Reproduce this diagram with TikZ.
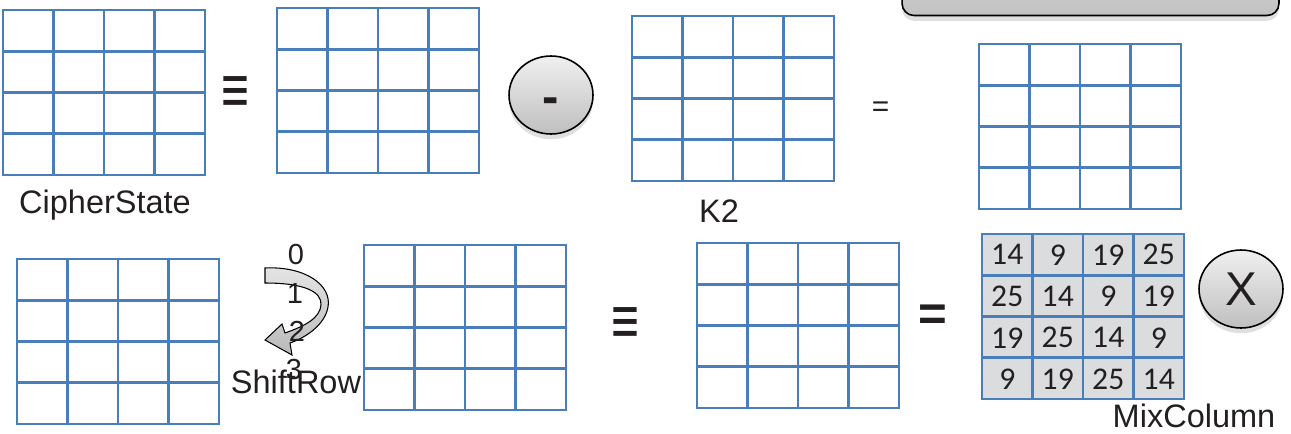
\documentclass[tikz,border=0pt]{standalone}
\usepackage{graphicx}
\usepackage{fontspec}
\setmainfont{Liberation Sans}
\newfontfamily\numfont{Carlito}
\usetikzlibrary{shapes.geometric,shadows,calc}
\definecolor{gridblue}{RGB}{74,126,187}
\definecolor{cellgray}{RGB}{219,220,222}
\definecolor{inkgray}{RGB}{35,31,32}

% 4x4 state grid: [fill] name, x, y (centre)
\newcommand{\stategrid}[4][white]{%
  \node[gridbox,fill=#1] (#2) at (#3,#4) {};
  \foreach \k in {1,2,3}{
    \draw[gridline] ($(#2.north west)!\k/4!(#2.north east)$) -- ($(#2.south west)!\k/4!(#2.south east)$);
    \draw[gridline] ($(#2.north west)!\k/4!(#2.south west)$) -- ($(#2.north east)!\k/4!(#2.south east)$);
  }%
}

\begin{document}
\begin{tikzpicture}[x=0.02cm,y=-0.02cm,
  gridbox/.style={draw=gridblue,line width=1.5pt,minimum width=4.04cm,minimum height=3.3cm,inner sep=0pt,outer sep=0pt},
  gridline/.style={draw=gridblue,line width=1.5pt},
  lbl/.style={text=inkgray,font=\fontsize{18.5}{22}\selectfont,inner sep=0pt,anchor=base},
  rowlbl/.style={text=inkgray,font=\fontsize{16.5}{18}\selectfont,inner sep=0pt,anchor=base},
  cellnum/.style={text=inkgray,font=\numfont\fontsize{18}{20}\selectfont,inner sep=0pt},
  opcircle/.style={ellipse,draw=black,line width=0.9pt,top color=gray!12,bottom color=gray!50,
    minimum width=1.68cm,minimum height=1.56cm,inner sep=0pt,
    drop shadow={opacity=0.25,shadow xshift=0pt,shadow yshift=-3pt}},
  opsym/.style={text=inkgray,font=\fontsize{27}{30}\selectfont,inner sep=0pt},
  eqsym/.style={text=inkgray,font=\bfseries\fontsize{26}{28}\selectfont,inner sep=0pt}]
\useasboundingbox (0,0) rectangle (1291,433);
\clip (0,0) rectangle (1291,433);

% top row
\node[draw=black,line width=0.9pt,rounded corners=0.24cm,top color=gray!35,bottom color=gray!48,
  minimum width=7.54cm,minimum height=1.1cm,inner sep=0pt,
  drop shadow={opacity=0.25,shadow xshift=0pt,shadow yshift=-3pt}] (banner) at (1090.5,-12) {};

\stategrid{cs}{104}{92.5}
\node[lbl] (cslbl) at (105,213) {CipherState};
\node[eqsym] (eqv1) at (235,95) {\scalebox{1.05}[1.5]{≡}};
\stategrid{st2}{378}{90.5}
\node[opcircle] (minus) at (551,95) {};
\node[opsym,font=\bfseries\fontsize{28}{30}\selectfont] (minussym) at (551,106) {-};
\stategrid{k2}{733}{98.5}
\node[lbl] (k2lbl) at (719,222) {K2};
\node[eqsym,font=\fontsize{17}{20}\selectfont] (eq1) at (880.5,109) {=};
\stategrid{st4}{1080}{126.5}

% bottom row
\stategrid{st5}{118}{341.5}
\draw[line width=0.6pt,top color=gray!20,bottom color=gray!55]
  (265,268) .. controls (305,266) and (332,285) .. (328,307)
  .. controls (325,325) and (305,338) .. (290,343)
  -- (292,355) -- (265,340) -- (282,324) -- (285,333)
  .. controls (305,326) and (320,318) .. (321,305)
  .. controls (322,292) and (305,283) .. (265,283) -- cycle;
\node[rowlbl] (r0) at (296,264) {0};
\node[rowlbl] (r1) at (295,303) {1};
\node[rowlbl] (r2) at (297,341) {2};
\node[rowlbl] (r3) at (294,379) {3};
\node[lbl] (srlbl) at (296,393) {ShiftRow};
\stategrid{st6}{465}{327.5}
\node[eqsym] (eqv2) at (625,326) {\scalebox{1.05}[1.5]{≡}};
\stategrid{st7}{798}{325.5}
\node[eqsym,font=\bfseries\fontsize{28}{30}\selectfont] (eq2) at (932.5,318) {=};
\stategrid[cellgray]{mc}{1083}{316.5}
\foreach \row [count=\r from 0] in {{14,9,19,25},{25,14,9,19},{19,25,14,9},{9,19,25,14}}{
  \foreach \v [count=\c from 0] in \row{
    \node[cellnum] (m\r\c) at (982+50.5*\c+25.25,234+41.5*\r+20.75) {\v};
  }
}
\node[lbl] (mclbl) at (1194,427) {MixColumn};
\node[opcircle] (times) at (1241,289) {};
\node[opsym] (timessym) at (times) {X};
\end{tikzpicture}
\end{document}
